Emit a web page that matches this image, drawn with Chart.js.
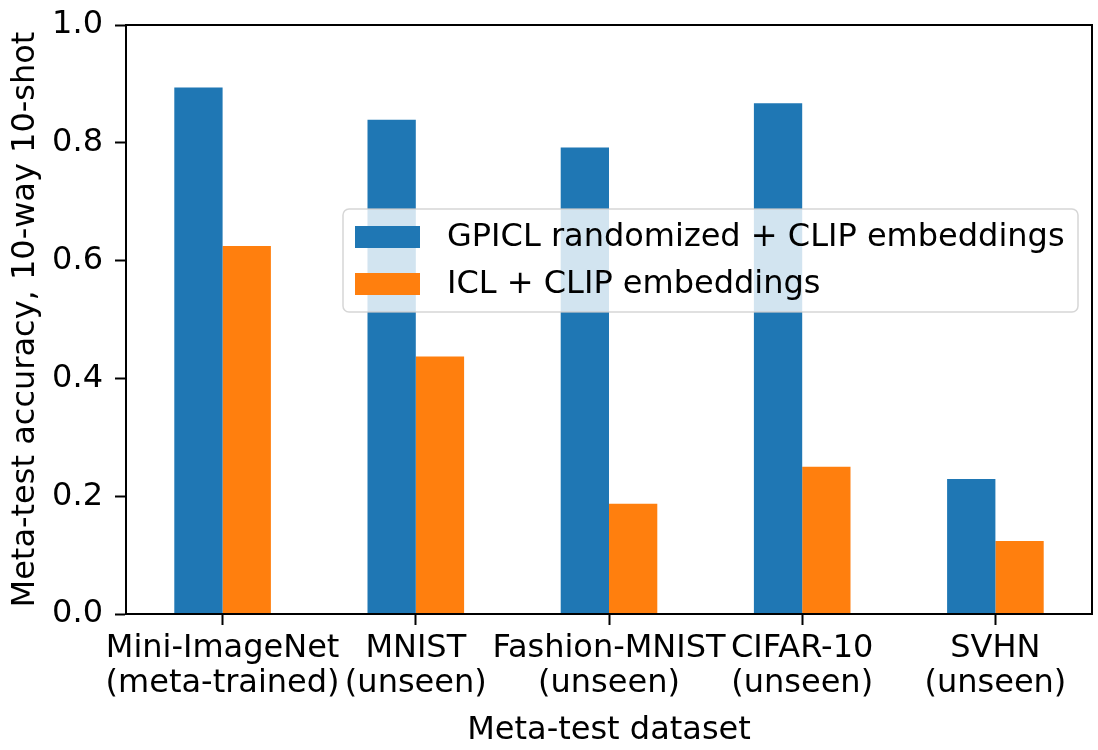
<!DOCTYPE html>
<html>
<head>
<meta charset="utf-8">
<script src="https://cdn.jsdelivr.net/npm/chart.js@4"></script>
<style>
    html, body { margin: 0; padding: 0; background: #fff; }
    #wrap { width: 1098px; height: 750px; }
</style>
</head>
<body>
<div id="wrap"><canvas id="myChart" width="1098" height="750"></canvas></div>
<script>
const categories = [
    ['Mini-ImageNet', '(meta-trained)'],
    ['MNIST', '(unseen)'],
    ['Fashion-MNIST', '(unseen)'],
    ['CIFAR-10', '(unseen)'],
    ['SVHN', '(unseen)']
];
const seriesNames = ['GPICL randomized + CLIP embeddings', 'ICL + CLIP embeddings'];
const gpiclValues = [0.894, 0.839, 0.792, 0.867, 0.229];
const iclValues = [0.625, 0.437, 0.187, 0.250, 0.124];
const yTicks = [0.0, 0.2, 0.4, 0.6, 0.8, 1.0];

const FONT = 'DejaVu Sans';
const FSIZE = 32;

// frame round the plot + legend box like matplotlib
const framePlugin = {
    id: 'frame',
    afterDatasetsDraw(chart) {
        const ctx = chart.ctx;
        const a = chart.chartArea;
        ctx.save();
        ctx.strokeStyle = '#000';
        ctx.lineWidth = 2;
        ctx.strokeRect(a.left, a.top, a.right - a.left, a.bottom - a.top);

        // legend
        const x = 343, y = 209, w = 735, h = 103, r = 6;
        ctx.beginPath();
        ctx.moveTo(x + r, y);
        ctx.arcTo(x + w, y, x + w, y + h, r);
        ctx.arcTo(x + w, y + h, x, y + h, r);
        ctx.arcTo(x, y + h, x, y, r);
        ctx.arcTo(x, y, x + w, y, r);
        ctx.closePath();
        ctx.fillStyle = 'rgba(255,255,255,0.8)';
        ctx.fill();
        ctx.strokeStyle = 'rgba(204,204,204,0.8)';
        ctx.lineWidth = 1.5;
        ctx.stroke();

        ctx.font = FSIZE + 'px "' + FONT + '"';
        ctx.textBaseline = 'middle';
        chart.data.datasets.forEach((ds, i) => {
            const cy = 237 + i * 47;
            ctx.fillStyle = ds.backgroundColor;
            ctx.fillRect(355, cy - 11, 65, 22);
            ctx.fillStyle = '#000';
            ctx.fillText(ds.label, 447, cy + 1);
        });
        ctx.restore();
    }
};

const data = {
    labels: categories,
    datasets: [{
        label: seriesNames[0],
        data: gpiclValues,
        backgroundColor: '#1f77b4',
        categoryPercentage: 0.5,
        barPercentage: 1.0
    }, {
        label: seriesNames[1],
        data: iclValues,
        backgroundColor: '#ff7f0e',
        categoryPercentage: 0.5,
        barPercentage: 1.0
    }]
};

const config = {
    type: 'bar',
    data: data,
    options: {
        responsive: false,
        animation: false,
        layout: {
            padding: { top: 25, right: 6, left: 0, bottom: 0 }
        },
        scales: {
            x: {
                offset: true,
                grid: {
                    offset: false,
                    drawOnChartArea: false,
                    drawTicks: true,
                    tickLength: 11,
                    tickWidth: 2,
                    color: '#000'
                },
                border: { display: true, color: '#000', width: 2 },
                ticks: {
                    color: '#000',
                    font: { family: FONT, size: FSIZE, lineHeight: 1.1 },
                    padding: 6,
                    maxRotation: 0,
                    autoSkip: false
                },
                title: {
                    display: true,
                    text: 'Meta-test dataset',
                    color: '#000',
                    font: { family: FONT, size: FSIZE },
                    padding: { top: 2, bottom: 0 }
                },
                afterFit(scale) {
                    scale.height = 136;
                    scale.paddingLeft = 0;
                    scale.paddingRight = 0;
                }
            },
            y: {
                min: 0,
                max: 1.0,
                afterBuildTicks(scale) {
                    scale.ticks = yTicks.map(v => ({ value: v }));
                },
                grid: {
                    drawOnChartArea: false,
                    drawTicks: true,
                    tickLength: 11,
                    tickWidth: 2,
                    color: '#000'
                },
                border: { display: true, color: '#000', width: 2 },
                ticks: {
                    color: '#000',
                    font: { family: FONT, size: FSIZE },
                    padding: 12,
                    callback: v => Number(v).toFixed(1)
                },
                title: {
                    display: true,
                    text: 'Meta-test accuracy, 10-way 10-shot',
                    color: '#000',
                    font: { family: FONT, size: FSIZE },
                    padding: { top: 6, bottom: 0 }
                },
                afterFit(scale) {
                    scale.width = 126;
                    scale.paddingTop = 0;
                    scale.paddingBottom = 0;
                }
            }
        },
        plugins: {
            legend: { display: false },
            tooltip: { enabled: false }
        }
    },
    plugins: [framePlugin]
};

var myChart = new Chart(document.getElementById('myChart'), config);
</script>
</body>
</html>
